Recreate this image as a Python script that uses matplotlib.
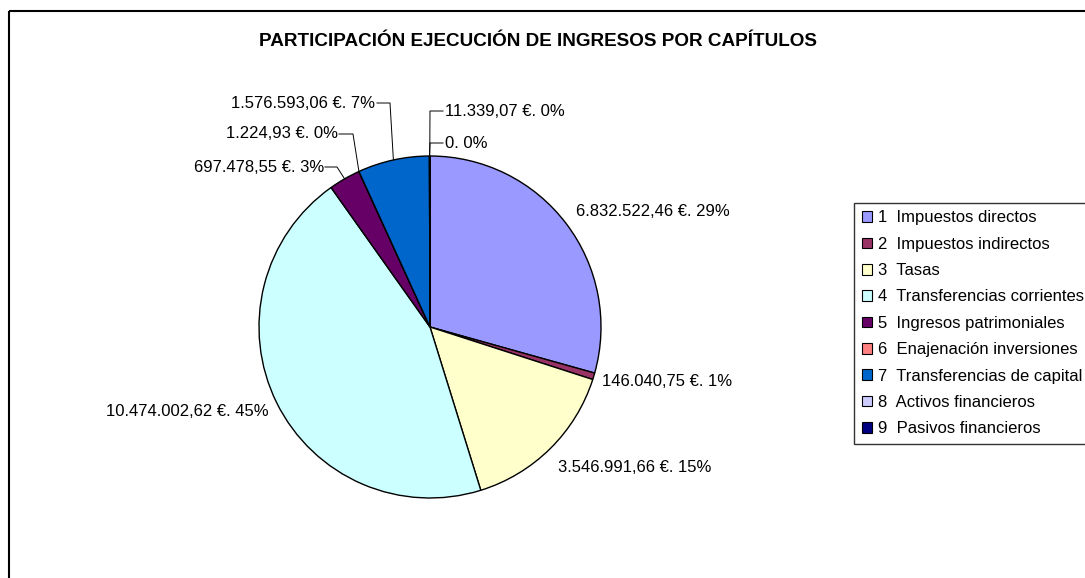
import matplotlib
matplotlib.use('Agg')
import matplotlib.pyplot as plt
import matplotlib.transforms as mtransforms
from matplotlib.lines import Line2D
from matplotlib.patches import Rectangle
import numpy as np

plt.rcParams['font.family'] = ['Liberation Sans', 'DejaVu Sans']

title = 'PARTICIPACIÓN EJECUCIÓN DE INGRESOS POR CAPÍTULOS'
categories = ['Impuestos directos', 'Impuestos indirectos', 'Tasas',
              'Transferencias corrientes', 'Ingresos patrimoniales',
              'Enajenación inversiones', 'Transferencias de capital',
              'Activos financieros', 'Pasivos financieros']
values = [6832522.46, 146040.75, 3546991.66, 10474002.62, 697478.55,
          1224.93, 1576593.06, 0.0, 11339.07]
colors = ['#9999FF', '#993366', '#FFFFCC', '#CCFFFF', '#660066',
          '#FF8080', '#0066CC', '#CCCCFF', '#000080']

W, H, DPI = 1085, 578, 100
# pie centre and radius in pixels (layout)
CX, CY, R = 430, 327, 171

# label layout in pixels: (x, y, ha, elbow, end) ; elbow None = no leader
label_layout = [
    (576, 211, 'left', None, None),
    (602, 382, 'left', None, None),
    (558, 468, 'left', None, None),
    (269, 412, 'right', None, None),
    (324, 167, 'right', (337, 167), (325, 167)),
    (338, 134, 'right', (353, 134), (339, 134)),
    (375, 103, 'right', (390, 103), (377, 103)),
    (445, 143, 'left', (430, 143), (443, 143)),
    (445, 111, 'left', (430, 111), (443, 111)),
]


def fmt_es(v):
    if v == 0:
        return '0'
    s = '{:,.2f}'.format(v)
    return s.replace(',', 'X').replace('.', ',').replace('X', '.')


fig = plt.figure(figsize=(W / DPI, H / DPI), dpi=DPI)
px = mtransforms.Affine2D().scale(1.0 / W, -1.0 / H).translate(0, 1) + fig.transFigure

# outer chart frame (runs off the right and bottom edges)
fig.add_artist(Rectangle((9, 11), 1100, 600, transform=px, fill=False,
                         edgecolor='black', linewidth=1.5))

ax = fig.add_axes([(CX - R) / W, (H - CY - R) / H, 2 * R / W, 2 * R / H])
wedges, _ = ax.pie(values, colors=colors, startangle=90, counterclock=False,
                   radius=1,
                   wedgeprops=dict(edgecolor='black', linewidth=1.0))
ax.set_xlim(-1, 1)
ax.set_ylim(-1, 1)
ax.set_aspect('auto')
ax.axis('off')

total = sum(values)
for w, v, (tx, ty, ha, elbow, end) in zip(wedges, values, label_layout):
    pct = round(100 * v / total)
    if v == 0:
        txt = '0. 0%'
    else:
        txt = '{} €. {}%'.format(fmt_es(v), pct)
    fig.text(tx, ty, txt, transform=px, ha=ha, va='center', fontsize=12)
    if elbow is not None:
        mid = np.deg2rad((w.theta1 + w.theta2) / 2)
        edge_disp = ax.transData.transform((np.cos(mid), np.sin(mid)))
        ex, ey = px.inverted().transform(edge_disp)
        fig.add_artist(Line2D([ex, elbow[0], end[0]], [ey, elbow[1], end[1]],
                              transform=px, color='black', linewidth=0.7))

fig.text(538, 42, title, transform=px, ha='center', va='center',
         fontsize=13.6, fontweight='bold')

leg_labels = ['{}  {}'.format(i + 1, c) for i, c in enumerate(categories)]
leg = fig.legend(wedges, leg_labels, loc='upper left',
                 bbox_to_anchor=(854 / W, 1 - 203 / H), borderaxespad=0,
                 fontsize=12, frameon=True, fancybox=False, shadow=False,
                 handlelength=0.6, handleheight=0.6, handletextpad=0.4,
                 labelspacing=0.68, borderpad=0.45)
leg.get_frame().set_edgecolor('black')
leg.get_frame().set_linewidth(1.0)
for h in leg.legend_handles:
    h.set_linewidth(0.8)

fig.savefig('out.png', dpi=DPI)
